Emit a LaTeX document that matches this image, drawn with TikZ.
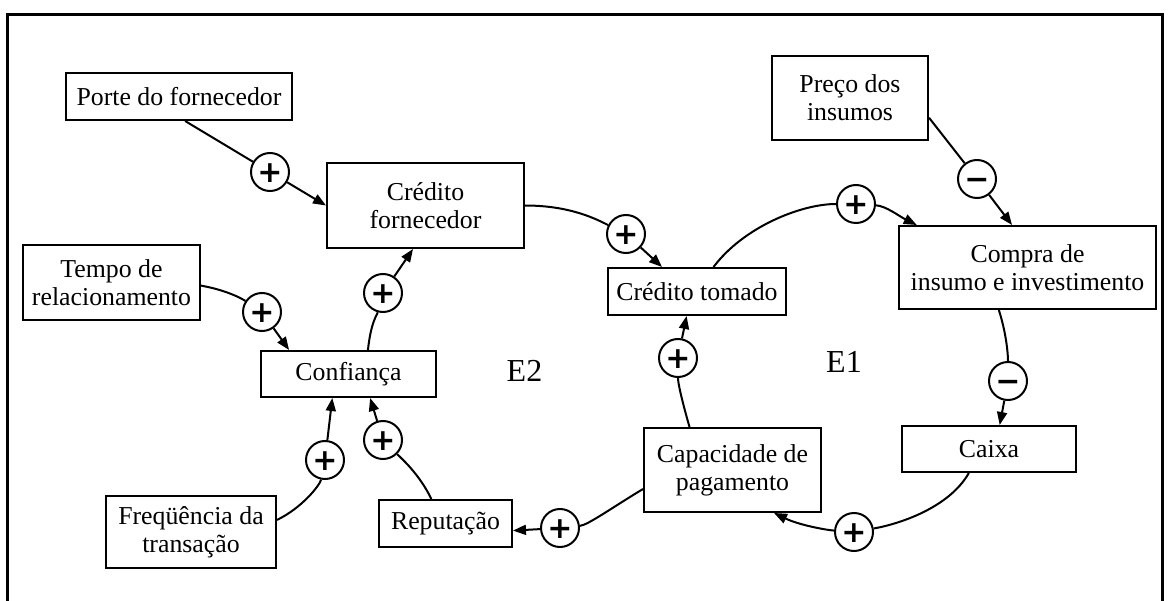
\documentclass[tikz,border=0pt]{standalone}
\usepackage{fontspec}
\setmainfont{Liberation Serif}
\newfontfamily\signfont{DejaVu Sans}
\usetikzlibrary{arrows.meta}

\begin{document}
\begin{tikzpicture}[x=1pt,y=-1pt,
  box/.style={draw, line width=2pt, inner sep=0pt, align=center,
    font=\fontsize{25.8}{28}\selectfont},
  sgn/.style={draw, circle, line width=2pt, minimum size=38pt, inner sep=0pt,
    font=\signfont\bfseries\fontsize{30}{30}\selectfont,
    text height=21.5pt, text depth=0pt},
  loopname/.style={font=\fontsize{32}{32}\selectfont},
  link/.style={line width=2pt},
  arr/.style={link, -{Triangle[length=13pt,width=10pt]}},
]
\useasboundingbox (0,0) rectangle (1172,601);
% outer frame (open at the bottom)
\draw[line width=3pt] (7,601) -- (7,15) -- (1162,15) -- (1162,601);

% variables
\node[box, minimum width=226pt, minimum height=47pt] (porte) at (179,96.5) {Porte do fornecedor};
\node[box, minimum width=197pt, minimum height=85pt] (crf) at (425.5,205.5) {Crédito\\fornecedor};
\node[box, minimum width=177pt, minimum height=75pt] (tempo) at (111.5,282.5) {Tempo de\\relacionamento};
\node[box, minimum width=175pt, minimum height=46pt] (conf) at (348.5,374) {Confiança};
\node[box, minimum width=170pt, minimum height=72pt] (freq) at (191,532) {Freqüência da\\transação};
\node[box, minimum width=133pt, minimum height=47pt] (rep) at (445.5,523.5) {Reputação};
\node[box, minimum width=177pt, minimum height=84pt] (cap) at (732.5,470) {Capacidade de\\pagamento};
\node[box, minimum width=178pt, minimum height=47pt] (ct) at (697,291.5) {Crédito tomado};
\node[box, minimum width=156pt, minimum height=84pt] (preco) at (850,98) {Preço dos\\insumos};
\node[box, minimum width=257pt, minimum height=83pt] (compra) at (1027.5,267.5) {Compra de\\insumo e investimento};
\node[box, minimum width=174pt, minimum height=46pt] (caixa) at (989,449) {Caixa};

% loop names
\node[loopname] (e2) at (524.5,370.5) {E2};
\node[loopname] (e1) at (844,362) {E1};

% polarity signs
\node[sgn] (s1) at (270,172) {+};
\node[sgn] (s2) at (626,234) {+};
\node[sgn] (s3) at (856,204) {+};
\node[sgn] (s4) at (977,179) {−};
\node[sgn] (s5) at (1008,381) {−};
\node[sgn] (s6) at (854,532) {+};
\node[sgn] (s7) at (678,358) {+};
\node[sgn] (s8) at (560,528) {+};
\node[sgn] (s9) at (383,440) {+};
\node[sgn] (s10) at (325,460) {+};
\node[sgn] (s11) at (262,312) {+};
\node[sgn] (s12) at (383,293) {+};

% causal links
\draw[link] (porte.-76) -- (s1);
\draw[arr] (s1) -- (crf.west);

\draw[link] (crf.east) .. controls +(45,0) and +(-30,-15) .. (s2);
\draw[arr] (s2) -- (ct.145);

\draw[link] (ct.56) .. controls +(30,-40) and +(-55,0) .. (s3);
\draw[arr] (s3) .. controls +(30,2) and +(-18,-9) .. (compra.159);

\draw[link] (preco.-14) -- (s4);
\draw[arr] (s4) -- (compra.110);

\draw[link] (compra.236) .. controls +(8,25) and +(0,-25) .. (s5);
\draw[arr] (s5) -- (caixa.66);

\draw[link] (caixa.230) .. controls +(-20,35) and +(45,-8) .. (s6);
\draw[arr] (s6) .. controls +(-28,-2) and +(25,12) .. (cap.-46);

\draw[link] (cap.135) .. controls +(-8,-28) and +(0,25) .. (s7);
\draw[arr] (s7) -- (ct.247);

\draw[link] (cap.192) .. controls +(-30,18) and +(28,-3) .. (s8);
\draw[arr] (s8) -- (rep.-6);

\draw[link] (rep.120) .. controls +(-12,-25) and +(18,18) .. (s9);
\draw[arr] (s9) -- (conf.-48);

\draw[link] (freq.8) .. controls +(25,-12) and +(-5,25) .. (s10);
\draw[arr] (s10) -- (conf.236);

\draw[link] (tempo.-2) .. controls +(28,5) and +(-18,-12) .. (s11);
\draw[arr] (s11) -- (conf.158);

\draw[link] (conf.51) .. controls +(3,-28) and +(-6,22) .. (s12);
\draw[arr] (s12) -- (crf.254);
\end{tikzpicture}
\end{document}
